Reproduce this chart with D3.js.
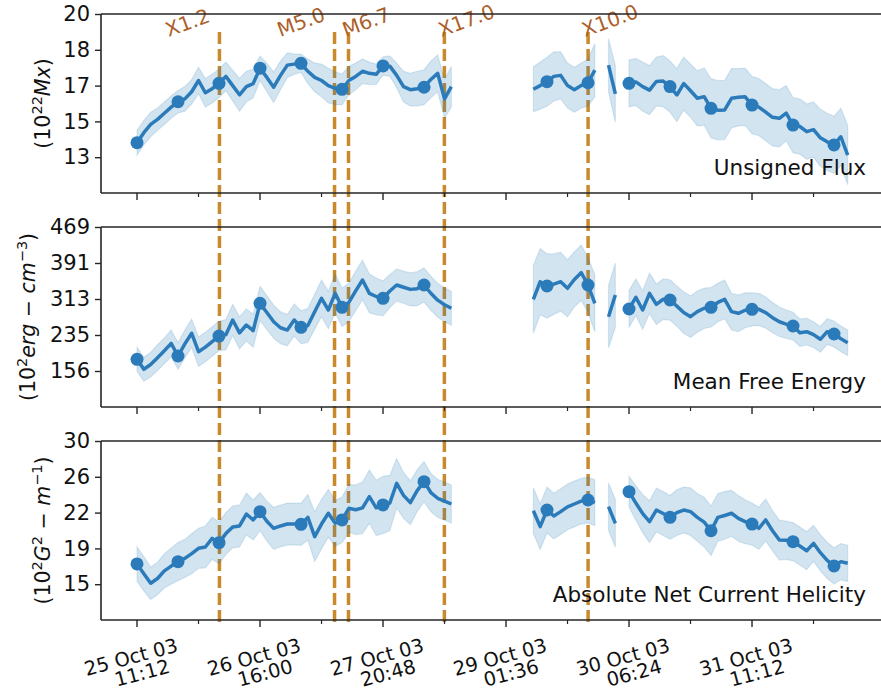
<!DOCTYPE html>
<html>
<head>
<meta charset="utf-8">
<script src="https://cdn.jsdelivr.net/npm/d3@7"></script>
<style>
body { margin: 0; background: #fff; }
svg { font-family: "DejaVu Sans", sans-serif; }
</style>
</head>
<body>
<div id="canvas"></div>
<script>
// sample grid: one value every 96 minutes, starting at the first tick
var startTime = Date.UTC(2003, 9, 25, 11, 12);
var cadenceMin = 96;

var flux = [13.71,14.2,14.6,14.85,15.15,15.45,15.71,15.85,16.2,16.75,16.15,16.35,16.61,
	16.95,16.5,16.05,16.45,16.6,17.35,16.9,16.42,17.0,17.5,17.55,17.59,
	17.2,16.9,16.75,16.5,16.37,16.32,16.75,16.95,17.2,17.1,17.05,17.46,
	17.45,17.0,16.45,16.3,16.35,16.42,16.8,17.1,15.85,16.45,
	null,null,null,null,null,null,null,null,null,null,null,
	16.32,16.5,16.69,16.95,17.0,16.5,16.3,16.5,16.64,17.26,null,17.5,16.1,null,
	16.61,16.68,16.45,16.28,16.7,16.72,16.45,16.04,16.6,16.25,15.88,15.96,15.39,
	15.3,15.31,15.88,15.93,15.95,15.55,15.45,15.2,14.95,14.9,15.15,14.57,
	14.5,14.25,14.35,13.95,13.75,13.6,14.0,13.1];
var fluxErr = [0.6,0.6,0.6,0.55,0.55,0.55,0.55,0.6,0.6,0.65,0.7,0.7,0.7,
	0.7,0.75,0.8,0.75,0.7,0.6,0.7,0.75,0.7,0.6,0.5,0.45,
	0.6,0.7,0.8,0.85,0.8,0.75,0.7,0.65,0.6,0.55,0.5,0.45,
	0.5,0.6,0.75,0.8,0.85,0.85,0.9,0.9,0.95,1.0,
	null,null,null,null,null,null,null,null,null,null,null,
	1.1,1.15,1.2,1.2,1.15,1.1,1.1,1.1,1.15,1.3,null,1.3,1.4,null,
	1.15,1.15,1.2,1.2,1.2,1.25,1.25,1.3,1.3,1.3,1.35,1.4,1.45,
	1.45,1.45,1.45,1.4,1.4,1.4,1.4,1.4,1.4,1.4,1.35,1.35,
	1.35,1.35,1.35,1.4,1.4,1.4,1.4,1.45];

var energy = [181.4,159.7,170,185,200,216,188.6,215,237.9,198,208,220,232,
	235,266.9,239,256,243.6,303,283,263,250,245,266.9,251,
	255,285,314,288.6,324.8,294.5,305,330,353.8,324.8,318,314,
	330,342.9,338,333.4,335,342.9,325,310,300,292.3,
	null,null,null,null,null,null,null,null,null,null,null,
	311.8,350,340.8,345,350.1,335.8,355,369.7,342.9,303,null,274,321,null,
	290.8,316.2,288.6,324.8,300.9,312,310.3,297,283,274,285,292.3,294.5,
	305,311.8,285,281.4,288,290,290,283,272,263,258,253.8,
	239.3,241.5,235,224.9,241.5,236.4,226,217.5];
var energyErr = [26,26,27,28,28,29,29,30,31,32,32,32,32,
	33,34,35,35,36,37,37,36,35,34,35,36,
	37,38,40,41,42,42,42,43,43,42,40,38,
	36,35,35,36,37,37,37,37,37,37,
	null,null,null,null,null,null,null,null,null,null,null,
	74,72,70,66,64,62,60,60,60,62,null,68,70,null,
	40,40,42,44,44,44,44,44,45,45,45,44,43,
	42,42,40,40,38,36,35,34,33,32,31,30,
	30,29,28,28,28,28,28,28];

var helicity = [17.12,16.1,15.1,15.6,16.4,16.9,17.36,17.7,18.2,18.76,18.9,19.8,19.35,
	20.3,21.0,21.1,22.35,21.73,22.6,21.6,20.85,21.1,21.3,21.3,21.27,
	22.0,19.98,21.3,22.43,21.38,21.73,22.95,22.8,23.0,24.17,23.0,23.3,
	23.5,25.57,24.3,23.54,24.8,25.74,24.6,24.0,23.7,23.4,
	null,null,null,null,null,null,null,null,null,null,null,
	22.7,21.03,22.77,22.14,22.6,23.1,23.4,23.7,23.82,23.54,null,23.12,21.38,null,
	24.69,23.5,22.4,21.55,22.77,22.4,22.0,22.5,22.77,22.6,22.0,21.5,20.6,
	22.0,22.2,22.43,21.9,21.55,21.3,20.85,21.73,20.6,19.63,19.6,19.45,
	19.0,18.51,19.28,18.3,17.5,16.91,17.36,17.19];
var helicityErr = [1.8,1.8,1.7,1.7,1.8,1.9,2.0,2.0,2.1,2.1,2.2,2.2,2.2,
	2.2,2.2,2.2,2.2,2.1,2.0,2.1,2.2,2.2,2.2,2.2,2.2,
	2.4,2.6,2.6,2.5,2.4,2.4,2.5,2.6,2.7,2.8,2.9,3.0,
	2.9,2.6,2.4,2.3,2.2,2.1,2.0,2.0,2.0,2.0,
	null,null,null,null,null,null,null,null,null,null,null,
	2.4,2.4,2.4,2.4,2.4,2.4,2.4,2.4,2.4,2.4,null,2.5,2.5,null,
	1.6,1.8,2.0,2.2,2.3,2.3,2.3,2.4,2.4,2.5,2.5,2.6,2.6,
	2.5,2.5,2.4,2.4,2.3,2.2,2.2,2.2,2.1,2.1,2.0,2.0,
	2.0,2.0,1.9,1.9,1.9,1.9,1.9,1.9];

var fluxTicks = [13, 14.75, 16.5, 18.25, 20];
var fluxTickLabels = ["13", "15", "17", "18", "20"];
var energyTicks = [156, 234.25, 312.5, 390.75, 469];
var energyTickLabels = ["156", "235", "313", "391", "469"];
var helicityTicks = [15, 18.75, 22.5, 26.25, 30];
var helicityTickLabels = ["15", "19", "22", "26", "30"];

var xMajorTicks = ["2003-10-25T11:12Z", "2003-10-26T16:00Z", "2003-10-27T20:48Z",
	"2003-10-29T01:36Z", "2003-10-30T06:24Z", "2003-10-31T11:12Z"];
var xMinorTicks = ["2003-10-26T01:36Z", "2003-10-27T06:24Z", "2003-10-28T11:12Z",
	"2003-10-29T16:00Z", "2003-10-30T20:48Z", "2003-11-01T01:36Z"];
var xTickLabels = [["25 Oct 03", "11:12"], ["26 Oct 03", "16:00"], ["27 Oct 03", "20:48"],
	["29 Oct 03", "01:36"], ["30 Oct 03", "06:24"], ["31 Oct 03", "11:12"]];

var flareNames = ["X1.2", "M5.0", "M6.7", "X17.0", "X10.0"];
var flareTimes = ["2003-10-26T06:30Z", "2003-10-27T09:27Z", "2003-10-27T12:43Z",
	"2003-10-28T11:10Z", "2003-10-29T20:49Z"];
var flareLabelSide = ["left", "left", "right", "right", "right"];

var width = 881, height = 691;
var blue = "#2b7bba";

var svg = d3.select("#canvas").append("svg")
	.attr("width", width)
	.attr("height", height);

var x = d3.scaleUtc()
	.domain([new Date("2003-10-25T02:46Z"), new Date("2003-11-01T17:24Z")])
	.range([101, 881]);

function timeOf(i) { return new Date(startTime + i * cadenceMin * 60000); }

var panels = [
	{ values: flux, err: fluxErr, domain: [11.25, 20], ticks: fluxTicks, labels: fluxTickLabels,
	  top: 14, bottom: 193, name: "Unsigned Flux", labelX: 50 },
	{ values: energy, err: energyErr, domain: [77.75, 469], ticks: energyTicks, labels: energyTickLabels,
	  top: 227, bottom: 407, name: "Mean Free Energy", labelX: 35 },
	{ values: helicity, err: helicityErr, domain: [11.25, 30], ticks: helicityTicks, labels: helicityTickLabels,
	  top: 441, bottom: 620, name: "Absolute Net Current Helicity", labelX: 50 }
];

// flare markers go behind everything, spanning all three panels
var flares = svg.append("g");
flareTimes.forEach(function(t, k) {
	var fx = x(new Date(t));
	flares.append("line")
		.attr("x1", fx).attr("x2", fx)
		.attr("y1", 32).attr("y2", 622)
		.attr("stroke", "#c98a2e")
		.attr("stroke-width", 3.5)
		.attr("stroke-dasharray", "12,5");
	var lab = flares.append("text")
		.attr("font-size", 20)
		.attr("fill", "#ad5f2a")
		.text(flareNames[k]);
	var w = lab.node().getComputedTextLength();
	var a = 20 * Math.PI / 180;
	var sx = flareLabelSide[k] == "right" ? fx - 3 : fx - 3 - w * Math.cos(a) - 15 * Math.sin(a);
	lab.attr("transform", "translate(" + sx + ",37) rotate(-20)");
});

panels.forEach(function(p, n) {
	var y = d3.scaleLinear().domain(p.domain).range([p.bottom, p.top]);
	var g = svg.append("g");
	var idx = d3.range(p.values.length);

	// std band
	var area = d3.area()
		.defined(function(i) { return p.values[i] != null; })
		.x(function(i) { return x(timeOf(i)); })
		.y0(function(i) { return y(p.values[i] - p.err[i]); })
		.y1(function(i) { return y(p.values[i] + p.err[i]); });
	g.append("path")
		.attr("d", area(idx))
		.attr("fill", "#1f77b4")
		.attr("fill-opacity", 0.2)
		.attr("stroke", "#1f77b4")
		.attr("stroke-opacity", 0.15)
		.attr("stroke-width", 1.2);

	var line = d3.line()
		.defined(function(i) { return p.values[i] != null; })
		.x(function(i) { return x(timeOf(i)); })
		.y(function(i) { return y(p.values[i]); });
	g.append("path")
		.attr("d", line(idx))
		.attr("fill", "none")
		.attr("stroke", blue)
		.attr("stroke-width", 3.5)
		.attr("stroke-linejoin", "round");

	g.selectAll("circle")
		.data(idx.filter(function(i) { return i % 6 == 0 && p.values[i] != null; }))
		.enter().append("circle")
		.attr("cx", function(i) { return x(timeOf(i)); })
		.attr("cy", function(i) { return y(p.values[i]); })
		.attr("r", 6.5)
		.attr("fill", blue);

	// spines
	g.append("path")
		.attr("d", "M101," + p.top + "H882M101," + p.bottom + "H882M101," + p.top + "V" + p.bottom)
		.attr("stroke", "#262626")
		.attr("stroke-width", 1.6)
		.attr("fill", "none");

	// y axis
	var yAxis = g.append("g")
		.attr("transform", "translate(101,0)")
		.call(d3.axisLeft(y).tickValues(p.ticks)
			.tickFormat(function(d, i) { return p.labels[i]; })
			.tickSize(6).tickPadding(5));
	yAxis.select(".domain").remove();
	yAxis.selectAll("line").attr("stroke", "#262626").attr("stroke-width", 1.4);
	yAxis.selectAll("text").attr("font-size", 21).attr("fill", "#111")
		.attr("font-family", "DejaVu Sans");

	// x ticks under every panel
	g.selectAll(".major")
		.data(xMajorTicks)
		.enter().append("line")
		.attr("x1", function(d) { return x(new Date(d)); })
		.attr("x2", function(d) { return x(new Date(d)); })
		.attr("y1", p.bottom).attr("y2", p.bottom + 7)
		.attr("stroke", "#262626").attr("stroke-width", 1.4);
	g.selectAll(".minor")
		.data(xMinorTicks)
		.enter().append("line")
		.attr("x1", function(d) { return x(new Date(d)); })
		.attr("x2", function(d) { return x(new Date(d)); })
		.attr("y1", p.bottom).attr("y2", p.bottom + 4)
		.attr("stroke", "#262626").attr("stroke-width", 1.2);

	// name inside the panel
	g.append("text")
		.attr("x", 866)
		.attr("y", p.bottom - 18)
		.attr("text-anchor", "end")
		.attr("font-size", 21.5)
		.attr("fill", "#111")
		.text(p.name);

	// y label with math
	var yl = g.append("text")
		.attr("transform", "translate(" + p.labelX + "," + ((p.top + p.bottom) / 2) + ") rotate(-90)")
		.attr("text-anchor", "middle")
		.attr("font-size", 20.5)
		.attr("fill", "#111");
	var parts;
	if (n == 0) parts = [["(10"], ["22", "sup"], ["Mx", "it"], [")"]];
	else if (n == 1) parts = [["(10"], ["2", "sup"], ["erg", "it"], [" \u2212 "], ["cm", "it"], ["\u22123", "sup"], [")"]];
	else parts = [["(10"], ["2", "sup"], ["G", "it"], ["2", "sup"], [" \u2212 "], ["m", "it"], ["\u22121", "sup"], [")"]];
	var raised = false;
	parts.forEach(function(q) {
		var ts = yl.append("tspan").text(q[0]);
		if (q[1] == "sup") {
			ts.attr("font-size", 14.5).attr("dy", raised ? 0 : -8);
			raised = true;
		} else {
			if (raised) ts.attr("dy", 8);
			raised = false;
			if (q[1] == "it") ts.attr("font-style", "italic");
		}
	});
});

// date labels below the last panel
var xl = svg.append("g");
xMajorTicks.forEach(function(t, k) {
	var tx = x(new Date(t));
	xl.append("text")
		.attr("transform", "translate(" + (tx - 6) + ",657) rotate(-15)")
		.attr("text-anchor", "middle")
		.attr("dy", "0.35em")
		.attr("font-size", 19.5)
		.attr("fill", "#111")
		.text(xTickLabels[k][0]);
	xl.append("text")
		.attr("transform", "translate(" + (tx + 5) + ",673) rotate(-15)")
		.attr("text-anchor", "middle")
		.attr("dy", "0.35em")
		.attr("font-size", 19.5)
		.attr("fill", "#111")
		.text(xTickLabels[k][1]);
});
</script>
</body>
</html>
